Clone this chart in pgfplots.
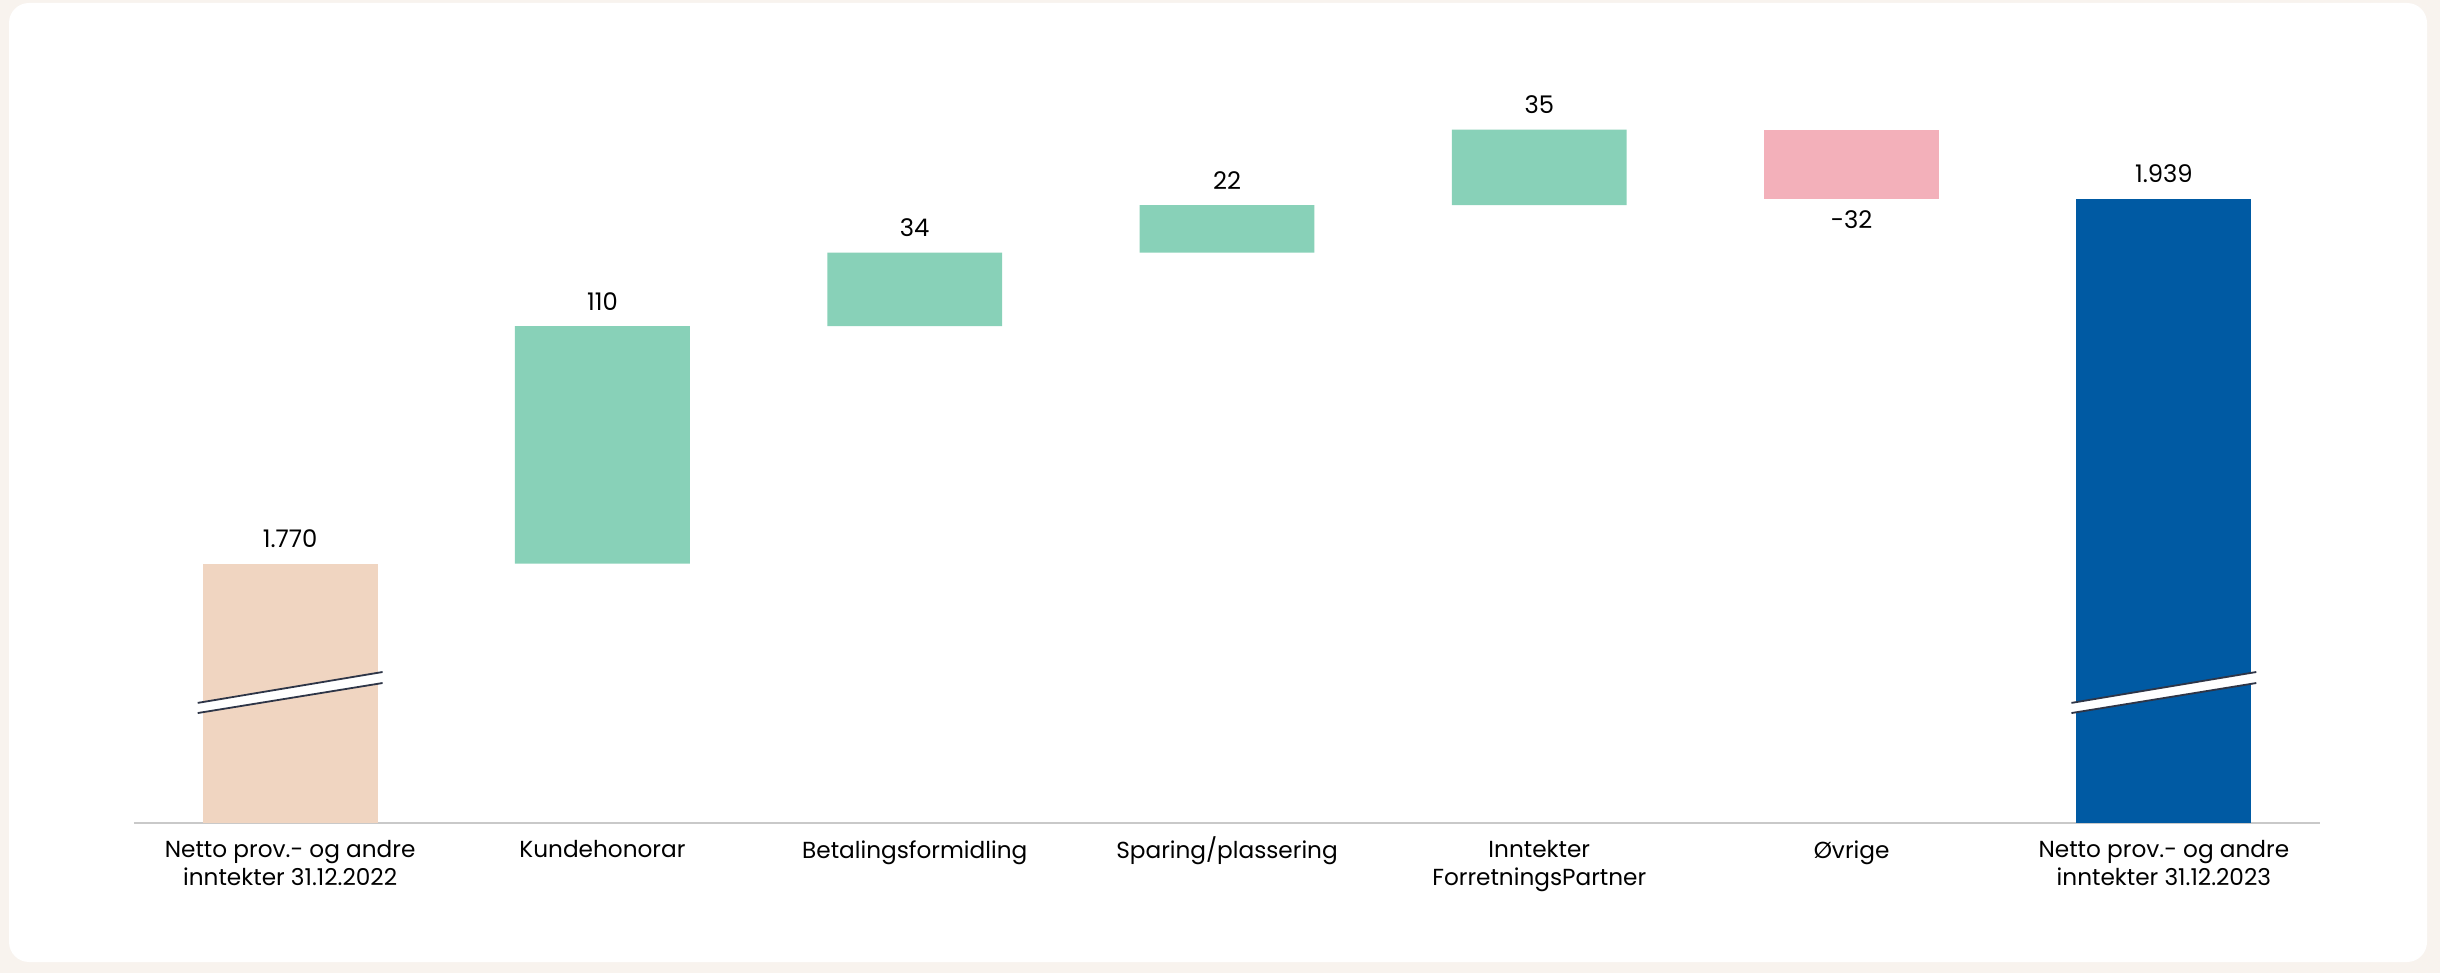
\documentclass[border=0pt]{standalone}
\usepackage{pgfplots}
\pgfplotsset{compat=1.18}
\usepackage{fontspec}
\setmainfont{Poppins}

\definecolor{bgcream}{HTML}{F8F3EE}
\definecolor{beige}{HTML}{F0D5C1}
\definecolor{up}{HTML}{88D1B8}
\definecolor{down}{HTML}{F3B0BA}
\definecolor{total}{HTML}{005AA3}
\definecolor{axisgrey}{HTML}{C9C9C9}
\definecolor{breakline}{HTML}{2E3547}

\begin{document}
\begin{tikzpicture}[x=1mm,y=1mm]
\fill[bgcream] (0,0) rectangle (244,97.3);
\fill[white, rounded corners=2mm] (0.9,1.1) rectangle (242.7,97.0);
\pgfplotsset{wf/.style={
  scale only axis, width=218.6mm, height=78.3mm,
  at={(13.4mm,15mm)}, anchor=south west,
  xmin=-0.5, xmax=6.5, ymin=1650, ymax=2012.5}}

% waterfall bars (broken axis: starts at 1650)
\begin{axis}[wf,
  ybar stacked, bar width=0.56,
  axis x line*=bottom, axis y line=none,
  x axis line style={draw=axisgrey, line width=0.2mm, -},
  xtick={0,...,6}, major tick length=0pt,
  xticklabels={{Netto prov.- og andre\\inntekter 31.12.2022}, Kundehonorar, Betalingsformidling, Sparing\smash{/}plassering, {Inntekter\\ForretningsPartner}, Øvrige, {Netto prov.- og andre\\inntekter 31.12.2023}},
  xticklabel style={font=\fontsize{6.6}{8}\selectfont, align=center, anchor=north, inner sep=0pt, yshift=-1.7mm},
]
\addplot[draw=none, fill=none] coordinates {(0,0) (1,1770) (2,1880) (3,1914) (4,1936) (5,1939) (6,0)};
\addplot[draw=none, fill=beige] coordinates {(0,1770) (1,0) (2,0) (3,0) (4,0) (5,0) (6,0)};
\addplot[draw=none, fill=up] coordinates {(0,0) (1,110) (2,34) (3,22) (4,35) (5,0) (6,0)};
\addplot[draw=none, fill=down] coordinates {(0,0) (1,0) (2,0) (3,0) (4,0) (5,32) (6,0)};
\addplot[draw=none, fill=total] coordinates {(0,0) (1,0) (2,0) (3,0) (4,0) (5,0) (6,1939)};
\end{axis}

% value labels and axis break marks on top
\begin{axis}[wf, hide axis, clip=false,
  nodes near coords, point meta=explicit symbolic,
  every node near coord/.append style={font=\fontsize{6.9}{8}\selectfont, text=black, inner sep=0pt}]
\addplot[draw=none, mark=none, every node near coord/.append style={anchor=south, yshift=1.5mm}]
  coordinates {(0,1770)[1.770] (1,1880)[110] (2,1914)[34] (3,1936)[22] (4,1971)[35] (6,1939)[1.939]};
\addplot[draw=none, mark=none, every node near coord/.append style={anchor=north, yshift=-1.1mm}]
  coordinates {(5,1939)[-32]};

\fill[white] (axis cs:-0.296,1700.9) -- (axis cs:0.296,1714.8) -- (axis cs:0.296,1719.9) -- (axis cs:-0.296,1705.6) -- cycle;
\draw[breakline, line width=0.18mm] (axis cs:-0.296,1700.9) -- (axis cs:0.296,1714.8);
\draw[breakline, line width=0.18mm] (axis cs:-0.296,1705.6) -- (axis cs:0.296,1719.9);
\fill[white] (axis cs:5.704,1700.9) -- (axis cs:6.296,1714.8) -- (axis cs:6.296,1719.9) -- (axis cs:5.704,1705.6) -- cycle;
\draw[breakline, line width=0.18mm] (axis cs:5.704,1700.9) -- (axis cs:6.296,1714.8);
\draw[breakline, line width=0.18mm] (axis cs:5.704,1705.6) -- (axis cs:6.296,1719.9);
\end{axis}
\end{tikzpicture}
\end{document}
